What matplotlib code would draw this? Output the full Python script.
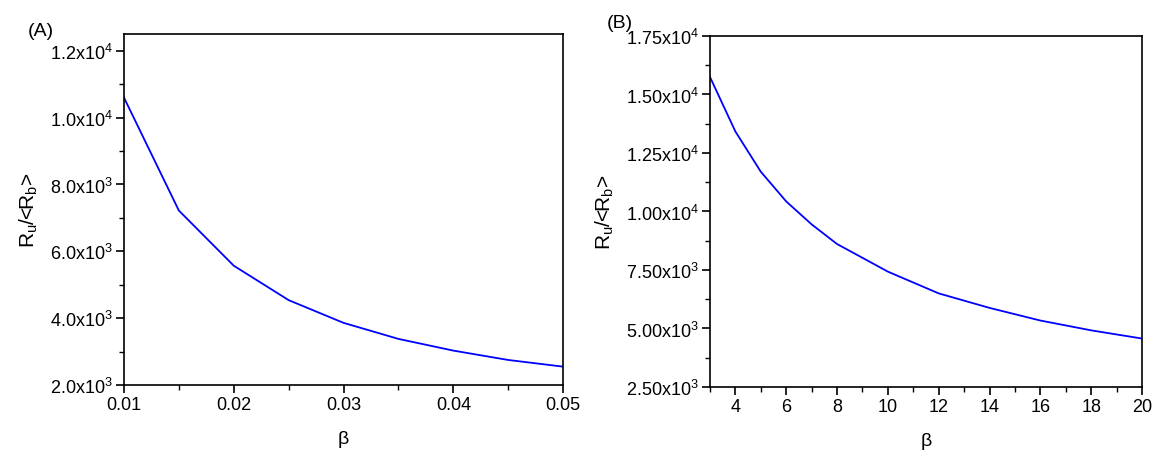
import matplotlib
matplotlib.use("Agg")
import matplotlib.pyplot as plt
from matplotlib.ticker import MultipleLocator, FuncFormatter

plt.rcParams['font.family'] = ['Liberation Sans', 'DejaVu Sans']
plt.rcParams['mathtext.fontset'] = 'custom'
plt.rcParams['mathtext.rm'] = 'Liberation Sans'
plt.rcParams['mathtext.it'] = 'Liberation Sans'

# Panel A data
beta_a = [0.010, 0.015, 0.020, 0.025, 0.030, 0.035, 0.040, 0.045, 0.050]
ratio_a = [10600, 7220, 5570, 4540, 3860, 3380, 3030, 2750, 2550]

# Panel B data
beta_b = [3, 4, 5, 6, 7, 8, 10, 12, 14, 16, 18, 20]
ratio_b = [15750, 13420, 11700, 10430, 9450, 8610, 7430, 6500, 5880, 5340, 4920, 4570]


def sci_fmt(decimals):
    def f(v, pos):
        if v == 0:
            return "0"
        exp = len(str(int(abs(v)))) - 1
        mant = v / 10 ** exp
        return f"{mant:.{decimals}f}x10$^{{{exp}}}$"
    return FuncFormatter(f)


def style_axes(ax):
    ax.tick_params(which='both', direction='out', top=False, right=False, labelsize=13)
    ax.tick_params(which='major', length=6, width=1.2, pad=2)
    ax.tick_params(which='minor', length=3.5, width=1.0)
    for s in ax.spines.values():
        s.set_linewidth(1.2)


fig = plt.figure(figsize=(11.65, 4.64), dpi=100)

# (A)
ax1 = fig.add_axes([0.1064, 0.168, 0.377, 0.7565])
ax1.plot(beta_a, ratio_a, color='#0000ff', lw=1.3)
ax1.set_xlim(0.01, 0.05)
ax1.set_ylim(2000, 12500)
ax1.xaxis.set_major_locator(MultipleLocator(0.01))
ax1.xaxis.set_minor_locator(MultipleLocator(0.005))
ax1.yaxis.set_major_locator(MultipleLocator(2000))
ax1.yaxis.set_minor_locator(MultipleLocator(1000))
ax1.xaxis.set_major_formatter(FuncFormatter(lambda v, p: f"{v:.2f}"))
ax1.yaxis.set_major_formatter(sci_fmt(1))
style_axes(ax1)
ax1.set_xlabel("β", fontsize=14, labelpad=12)
ax1.set_ylabel("R$_u$/<R$_b$>", fontsize=15, labelpad=7)
fig.text(0.024, 0.932, "(A)", fontsize=14, va='center')

# (B)
ax2 = fig.add_axes([0.6094, 0.1638, 0.3709, 0.7565])
ax2.plot(beta_b, ratio_b, color='#0000ff', lw=1.3)
ax2.set_xlim(3, 20)
ax2.set_ylim(2500, 17500)
ax2.xaxis.set_major_locator(MultipleLocator(2))
ax2.xaxis.set_minor_locator(MultipleLocator(1))
ax2.yaxis.set_major_locator(MultipleLocator(2500))
ax2.yaxis.set_minor_locator(MultipleLocator(1250))
ax2.yaxis.set_major_formatter(sci_fmt(2))
style_axes(ax2)
ax2.set_xlabel("β", fontsize=14, labelpad=12)
ax2.set_ylabel("R$_u$/<R$_b$>", fontsize=15, labelpad=7)
fig.text(0.521, 0.95, "(B)", fontsize=14, va='center')

fig.savefig("out.png", dpi=100)
